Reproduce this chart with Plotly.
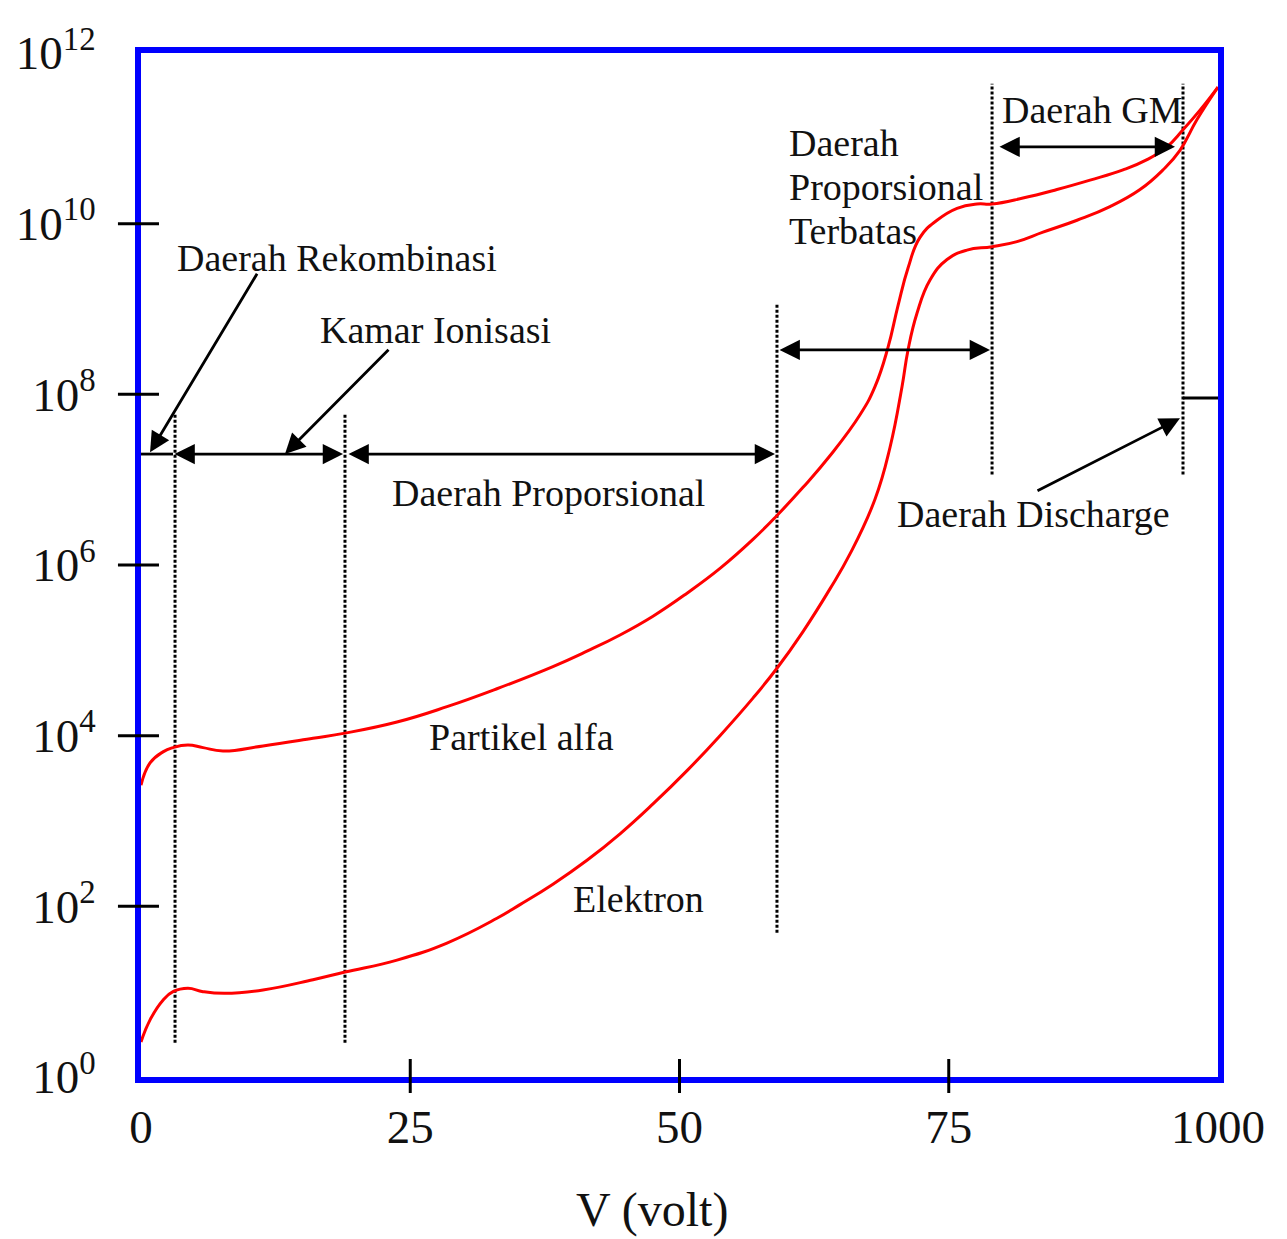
import plotly.graph_objects as go

# ---------------- data (x in volt, y as log10 exponent) ----------------
alpha_v = [0, 0.84, 2.04, 2.97, 4.36, 5.76, 7.61, 11.33, 15.97, 18.94,
           23.77, 28.41, 33.05, 38.25, 41.41, 44.48, 47.54, 50.70, 53.76, 56.82,
           59.05, 61.47, 63.97, 66.76, 68.15, 69.36, 70.29, 71.22, 72.33, 73.91,
           75.77, 77.62, 79.02, 81.89, 85.05, 88.12, 91.18, 93.41, 95.26, 96.75,
           98.33, 100]
alpha_exp = [3.42, 3.68, 3.81, 3.86, 3.89, 3.86, 3.82, 3.88, 3.97, 4.03,
             4.16, 4.34, 4.55, 4.81, 4.99, 5.18, 5.40, 5.67, 5.96, 6.30,
             6.58, 6.91, 7.28, 7.76, 8.09, 8.55, 9.04, 9.48, 9.84, 10.04,
             10.18, 10.23, 10.23, 10.30, 10.40, 10.51, 10.63, 10.75, 10.90, 11.10,
             11.33, 11.60]

elek_v = [0, 0.84, 2.04, 2.97, 4.36, 5.76, 7.80, 11.33, 15.97, 18.94,
          23.77, 28.41, 33.05, 35.19, 38.25, 41.41, 44.48, 47.54, 50.70, 53.76,
          56.82, 59.05, 61.47, 63.97, 65.83, 68.15, 69.55, 70.66, 71.22, 72.05,
          73.26, 74.84, 76.69, 79.02, 81.34, 83.75, 86.91, 89.97, 92.76, 94.89,
          96.47, 98.05, 100]
elek_exp = [0.41, 0.67, 0.90, 1.00, 1.04, 1.00, 0.98, 1.02, 1.14, 1.23,
            1.37, 1.57, 1.86, 2.02, 2.26, 2.54, 2.85, 3.20, 3.59, 4.00,
            4.44, 4.79, 5.22, 5.72, 6.13, 6.77, 7.38, 8.09, 8.52, 8.95,
            9.34, 9.58, 9.69, 9.73, 9.79, 9.90, 10.04, 10.20, 10.40, 10.63,
            10.86, 11.22, 11.60]

# region boundaries (dotted lines): x, exponent bottom, exponent top
bound_v = [3.16, 18.94, 59.05, 79.02, 96.75]
bound_lo = [0.40, 0.40, 1.69, 7.06, 7.06]
bound_hi = [7.76, 7.76, 9.05, 11.64, 11.64]

# double-headed range arrows: x start, x end, exponent level
range_x0 = [2.97, 19.13, 59.15, 79.57]
range_x1 = [18.76, 58.87, 78.83, 96.01]
range_exp = [7.30, 7.30, 8.52, 10.90]

# pointer arrows: tail (x, exp) -> head (x, exp)
ptr_tail_v = [10.86, 23.12, 83.10]
ptr_tail_exp = [9.43, 8.54, 6.86]
ptr_head_v = [0.84, 13.37, 96.47]
ptr_head_exp = [7.32, 7.30, 7.72]

# discharge level mark
discharge_exp = 7.957

# labels: text, left x, exponent
label_text = ["Daerah Rekombinasi", "Kamar Ionisasi", "Daerah Proporsional",
              "Partikel alfa", "Elektron", "Daerah", "Proporsional", "Terbatas",
              "Daerah GM", "Daerah Discharge"]
label_v = [3.16, 16.43, 23.12, 26.56, 39.93, 59.98, 59.98, 59.98, 79.76, 70.01]
label_exp = [9.60, 8.75, 6.84, 3.99, 2.09, 10.95, 10.43, 9.91, 11.33, 6.60]

x_tickvals = [0, 25, 50, 75, 100]
x_ticktext = ["0", "25", "50", "75", "1000"]
y_tick_exp = [0, 2, 4, 6, 8, 10, 12]
y_ticktext = ["10<sup>%d</sup>" % e for e in y_tick_exp]

SERIF = "Liberation Serif"
RED = "#ff0000"
BLUE = "#0000ff"

fig = go.Figure()

# dotted boundary lines
for xv, lo, hi in zip(bound_v, bound_lo, bound_hi):
    fig.add_trace(go.Scatter(x=[xv, xv], y=[10 ** lo, 10 ** hi], mode="lines",
                             line=dict(color="black", width=3, dash="3px,2px"),
                             hoverinfo="skip", showlegend=False))

# curves
fig.add_trace(go.Scatter(x=alpha_v, y=[10 ** e for e in alpha_exp], mode="lines",
                         line=dict(color=RED, width=3, shape="spline", smoothing=1.3),
                         name="Partikel alfa", showlegend=False))
fig.add_trace(go.Scatter(x=elek_v, y=[10 ** e for e in elek_exp], mode="lines",
                         line=dict(color=RED, width=3, shape="spline", smoothing=1.3),
                         name="Elektron", showlegend=False))

# plain segment from the axis to the first boundary
fig.add_trace(go.Scatter(x=[0, range_x0[0]], y=[10 ** range_exp[0]] * 2, mode="lines",
                         line=dict(color="black", width=2.8), hoverinfo="skip",
                         showlegend=False))
# discharge level mark
fig.add_trace(go.Scatter(x=[bound_v[4], 100], y=[10 ** discharge_exp] * 2, mode="lines",
                         line=dict(color="black", width=3), hoverinfo="skip",
                         showlegend=False))

shapes = []
# y tick marks crossing the left axis (except ends)
for e in y_tick_exp[1:-1]:
    shapes.append(dict(type="line", xref="paper", yref="y", x0=-0.0214, x1=0.0167,
                       y0=10 ** e, y1=10 ** e, line=dict(color="black", width=3)))
# x tick marks crossing the bottom axis
for v in x_tickvals[1:-1]:
    shapes.append(dict(type="line", xref="x", yref="paper", x0=v, x1=v,
                       y0=-0.0156, y1=0.0176, line=dict(color="black", width=3)))

annotations = []
for x0, x1, e in zip(range_x0, range_x1, range_exp):
    annotations.append(dict(x=x1, y=e, ax=x0, ay=e, xref="x", yref="y", axref="x", ayref="y",
                            text="", showarrow=True, arrowside="end+start",
                            arrowhead=2, startarrowhead=2, arrowsize=1.45, startarrowsize=1.45,
                            arrowwidth=2.8, arrowcolor="black", standoff=0, startstandoff=0))
for tx, te, hx, he in zip(ptr_tail_v, ptr_tail_exp, ptr_head_v, ptr_head_exp):
    annotations.append(dict(x=hx, y=he, ax=tx, ay=te, xref="x", yref="y", axref="x", ayref="y",
                            text="", showarrow=True, arrowhead=2, arrowsize=1.45,
                            arrowwidth=2.8, arrowcolor="black", standoff=0))
for t, v, e in zip(label_text, label_v, label_exp):
    annotations.append(dict(x=v, y=e, xref="x", yref="y", text=t, showarrow=False,
                            xanchor="left", yanchor="middle",
                            font=dict(family=SERIF, size=38, color="#111111")))
# axis title
annotations.append(dict(x=0.4745, y=-0.130, xref="paper", yref="paper", text="V (volt)",
                        showarrow=False, xanchor="center", yanchor="middle",
                        font=dict(family=SERIF, size=48, color="#111111")))

fig.update_layout(
    width=1287, height=1239,
    margin=dict(l=141, r=69, t=53, b=162),
    plot_bgcolor="white", paper_bgcolor="white",
    showlegend=False,
    shapes=shapes, annotations=annotations,
    xaxis=dict(range=[0, 100], showline=True, mirror=True, linecolor=BLUE, linewidth=6,
               showgrid=False, zeroline=False, ticks="",
               tickvals=x_tickvals, ticktext=x_ticktext, ticklabelstandoff=4,
               tickfont=dict(family=SERIF, size=47, color="#111111")),
    yaxis=dict(type="log", range=[0, 12], showline=True, mirror=True, linecolor=BLUE,
               linewidth=6, showgrid=False, zeroline=False, ticks="",
               tickvals=[10 ** e for e in y_tick_exp], ticktext=y_ticktext,
               ticklabelstandoff=30,
               tickfont=dict(family=SERIF, size=47, color="#111111")),
)

fig.write_html("out.html")
